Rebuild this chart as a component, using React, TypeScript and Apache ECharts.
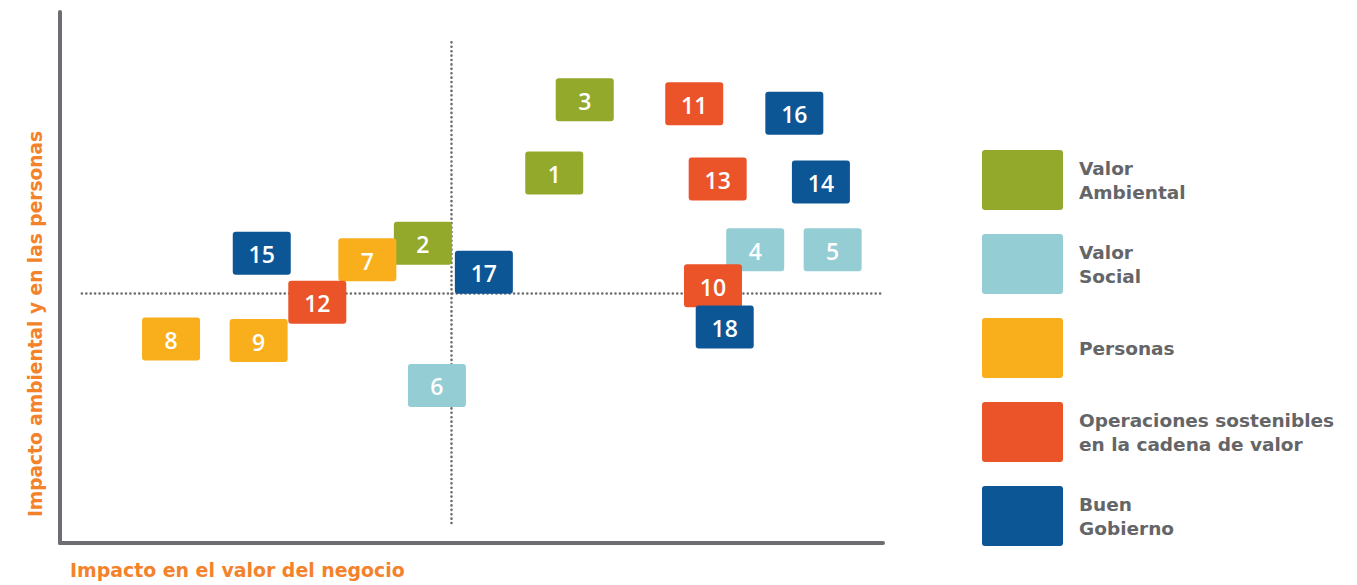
import React, { useEffect, useRef } from "react";
import * as echarts from "echarts";

// ---- data ----
const categories = [
  "Valor Ambiental",
  "Valor Social",
  "Personas",
  "Operaciones sostenibles en la cadena de valor",
  "Buen Gobierno",
];
const legendLabels = [
  "Valor\nAmbiental",
  "Valor\nSocial",
  "Personas",
  "Operaciones sostenibles\nen la cadena de valor",
  "Buen\nGobierno",
];
const colors = ["#93A92C", "#95CDD5", "#F9AE1C", "#EB5429", "#0C5695"];

// [impacto en el valor del negocio, impacto ambiental y en las personas, id]
const valorAmbiental = [
  [6.32, 7.42, 1],
  [4.64, 6.01, 2],
  [6.71, 8.89, 3],
];
const valorSocial = [
  [8.89, 5.88, 4],
  [9.88, 5.88, 5],
  [4.82, 3.16, 6],
];
const personas = [
  [3.93, 5.68, 7],
  [1.42, 4.09, 8],
  [2.54, 4.06, 9],
];
const operaciones = [
  [8.35, 5.16, 10],
  [8.11, 8.81, 11],
  [3.29, 4.83, 12],
  [8.41, 7.3, 13],
];
const buenGobierno = [
  [9.73, 7.24, 14],
  [2.58, 5.81, 15],
  [9.39, 8.62, 16],
  [5.42, 5.43, 17],
  [8.5, 4.33, 18],
];
const seriesData = [valorAmbiental, valorSocial, personas, operaciones, buenGobierno];

const xMax = 10.524;
const yMax = 10.65;
const quadrantX = 5;
const quadrantY = 5;
const vLineExtent = [0.4, 10.12];
const hLineExtent = [0.28, 10.524];

const axisTitleX = "Impacto en el valor del negocio";
const axisTitleY = "Impacto ambiental y en las personas";

const NUM_FONT = "'Open Sans', 'DejaVu Sans', sans-serif";
const TXT_FONT = "'DejaVu Sans', 'Open Sans', sans-serif";

export default function App() {
  const ref = useRef<HTMLDivElement>(null);

  useEffect(() => {
    if (!ref.current) return;
    const chart = echarts.init(ref.current, undefined, { renderer: "svg" });

    const boxW = 58;
    const boxH = 43;

    const renderItem = (params: any, api: any) => {
      const p = api.coord([api.value(0), api.value(1)]);
      return {
        type: "group",
        children: [
          {
            type: "rect",
            shape: { x: p[0] - boxW / 2, y: p[1] - boxH / 2, width: boxW, height: boxH, r: 3 },
            style: { fill: api.visual("color") },
          },
          {
            type: "text",
            x: p[0],
            y: p[1] + 1,
            style: {
              text: String(api.value(2)),
              align: "center",
              verticalAlign: "middle",
              fill: "#ffffff",
              fontSize: 23,
              fontFamily: NUM_FONT,
              fontWeight: 600,
            },
          },
        ],
      };
    };

    const series: any[] = categories.map((name, i) => ({
      type: "custom",
      name,
      renderItem,
      data: seriesData[i],
      encode: { x: 0, y: 1 },
      z: 3,
    }));

    // quadrant dotted lines
    series.push({
      type: "line",
      name: "_quadrants",
      data: [],
      silent: true,
      z: 1,
      markLine: {
        silent: true,
        z: 1,
        symbol: "none",
        label: { show: false },
        emphasis: { disabled: true },
        lineStyle: { type: [0.01, 4.4], color: "#6A6B6E", width: 2.6, cap: "round" },
        data: [
          [{ coord: [quadrantX, vLineExtent[0]] }, { coord: [quadrantX, vLineExtent[1]] }],
          [{ coord: [hLineExtent[0], quadrantY] }, { coord: [hLineExtent[1], quadrantY] }],
        ],
      },
    });

    const rr = "path://M3,0 H78 A3,3 0 0 1 81,3 V57 A3,3 0 0 1 78,60 H3 A3,3 0 0 1 0,57 V3 A3,3 0 0 1 3,0 Z";

    chart.setOption({
      animation: false,
      color: colors,
      grid: { left: 60, right: 474, top: 12, bottom: 42 },
      xAxis: {
        type: "value",
        min: 0,
        max: xMax,
        axisLine: { show: true, lineStyle: { color: "#6D6E71", width: 4, cap: "round" } },
        axisTick: { show: false },
        axisLabel: { show: false },
        splitLine: { show: false },
      },
      yAxis: {
        type: "value",
        min: 0,
        max: yMax,
        axisLine: { show: true, lineStyle: { color: "#6D6E71", width: 4, cap: "round" } },
        axisTick: { show: false },
        axisLabel: { show: false },
        splitLine: { show: false },
      },
      legend: {
        data: categories,
        orient: "vertical",
        left: 982,
        top: 150,
        padding: 0,
        itemWidth: 81,
        itemHeight: 60,
        itemGap: 24,
        icon: rr,
        selectedMode: false,
        formatter: (name: string) => legendLabels[categories.indexOf(name)],
        textStyle: {
          color: "#646567",
          fontSize: 18.5,
          lineHeight: 24,
          fontWeight: "bold",
          fontFamily: TXT_FONT,
          padding: [3, 0, 0, 11],
        },
      },
      graphic: [
        {
          type: "text",
          x: 70,
          y: 570,
          style: {
            text: axisTitleX,
            fill: "#F4822B",
            fontSize: 18.9,
            fontWeight: "bold",
            fontFamily: TXT_FONT,
            align: "left",
            verticalAlign: "middle",
          },
        },
        {
          type: "text",
          x: 35,
          y: 324,
          rotation: Math.PI / 2,
          style: {
            text: axisTitleY,
            fill: "#F4822B",
            fontSize: 18.6,
            fontWeight: "bold",
            fontFamily: TXT_FONT,
            align: "center",
            verticalAlign: "middle",
          },
        },
      ],
      series,
    });

    return () => chart.dispose();
  }, []);

  return (
    <div
      ref={ref}
      style={{ position: "fixed", left: 0, top: 0, width: 1357, height: 585, background: "#fff" }}
    />
  );
}
